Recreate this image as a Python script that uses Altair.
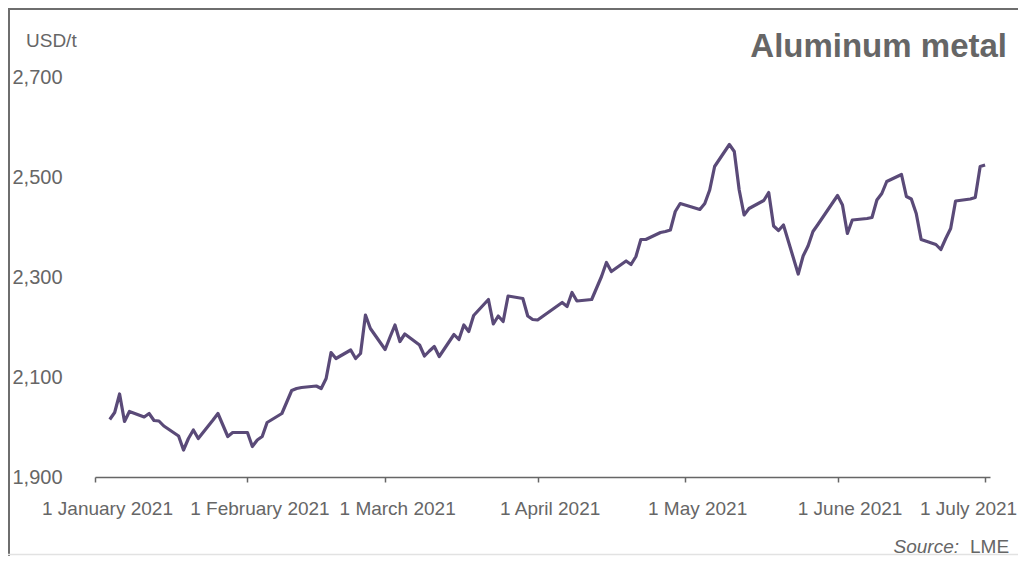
import altair as alt
import pandas as pd

# ---- data (LME aluminium, USD/t) ----
dates = [
    "2021-01-04", "2021-01-05", "2021-01-06", "2021-01-07", "2021-01-08",
    "2021-01-11", "2021-01-12", "2021-01-13", "2021-01-14", "2021-01-15",
    "2021-01-18", "2021-01-19", "2021-01-20", "2021-01-21", "2021-01-22",
    "2021-01-25", "2021-01-26", "2021-01-27", "2021-01-28", "2021-01-29",
    "2021-02-01", "2021-02-02", "2021-02-03", "2021-02-04", "2021-02-05",
    "2021-02-08", "2021-02-09", "2021-02-10", "2021-02-11", "2021-02-12",
    "2021-02-15", "2021-02-16", "2021-02-17", "2021-02-18", "2021-02-19",
    "2021-02-22", "2021-02-23", "2021-02-24", "2021-02-25", "2021-02-26",
    "2021-03-01", "2021-03-02", "2021-03-03", "2021-03-04", "2021-03-05",
    "2021-03-08", "2021-03-09", "2021-03-10", "2021-03-11", "2021-03-12",
    "2021-03-15", "2021-03-16", "2021-03-17", "2021-03-18", "2021-03-19",
    "2021-03-22", "2021-03-23", "2021-03-24", "2021-03-25", "2021-03-26",
    "2021-03-29", "2021-03-30", "2021-03-31", "2021-04-01",
    "2021-04-06", "2021-04-07", "2021-04-08", "2021-04-09",
    "2021-04-12", "2021-04-13", "2021-04-14", "2021-04-15", "2021-04-16",
    "2021-04-19", "2021-04-20", "2021-04-21", "2021-04-22", "2021-04-23",
    "2021-04-26", "2021-04-27", "2021-04-28", "2021-04-29", "2021-04-30",
    "2021-05-04", "2021-05-05", "2021-05-06", "2021-05-07",
    "2021-05-10", "2021-05-11", "2021-05-12", "2021-05-13", "2021-05-14",
    "2021-05-17", "2021-05-18", "2021-05-19", "2021-05-20", "2021-05-21",
    "2021-05-24", "2021-05-25", "2021-05-26", "2021-05-27", "2021-05-28",
    "2021-06-01", "2021-06-02", "2021-06-03", "2021-06-04",
    "2021-06-07", "2021-06-08", "2021-06-09", "2021-06-10", "2021-06-11",
    "2021-06-14", "2021-06-15", "2021-06-16", "2021-06-17", "2021-06-18",
    "2021-06-21", "2021-06-22", "2021-06-23", "2021-06-24", "2021-06-25",
    "2021-06-28", "2021-06-29", "2021-06-30", "2021-07-01",
]
prices = [
    2015, 2029, 2066, 2011, 2031,
    2020, 2027, 2013, 2012, 2002,
    1982, 1954, 1977, 1994, 1977,
    2014, 2027, 2004, 1981, 1989,
    1989, 1961, 1974, 1981, 2009,
    2027, 2050, 2073, 2077, 2079,
    2082, 2077, 2097, 2149, 2137,
    2154, 2137, 2147, 2224, 2197,
    2155, 2180, 2204, 2171, 2186,
    2164, 2142, 2152, 2161, 2141,
    2185, 2175, 2204, 2191, 2223,
    2255, 2206, 2222, 2211, 2262,
    2257, 2222, 2215, 2214,
    2249, 2241, 2269, 2252,
    2255, 2278, 2301, 2329, 2311,
    2332, 2325, 2341, 2375, 2375,
    2389, 2391, 2394, 2431, 2447,
    2435, 2447, 2474, 2521,
    2565, 2551, 2474, 2424, 2437,
    2453, 2469, 2402, 2393, 2404,
    2306, 2342, 2362, 2391, 2405,
    2463, 2444, 2387, 2414,
    2417, 2419, 2454, 2467, 2491,
    2505, 2461, 2456, 2427, 2375,
    2365, 2355, 2377, 2397, 2452,
    2456, 2459, 2521, 2524,
]
y_ticks = [1900, 2100, 2300, 2500, 2700]
tick_months = [1, 2, 3, 4, 5, 6, 7]

title_text = "Aluminum metal"
unit_text = "USD/t"
source_label = "Source:"
source_name = "LME"

df = pd.DataFrame({"date": dates, "price": prices})
one = pd.DataFrame({"k": [0]})

GREY = "#666666"
LINE = "#5a4a78"
FONT = "Liberation Sans"

x_enc = alt.X(
    "date:T",
    scale=alt.Scale(
        type="utc",
        domain=[alt.DateTime(year=2021, month=1, date=1, utc=True),
                alt.DateTime(year=2021, month=7, date=2, utc=True)],
    ),
    axis=alt.Axis(
        values=[alt.DateTime(year=2021, month=m, date=1, utc=True) for m in tick_months],
        format="%-d %B %Y",
        title=None,
        grid=False,
        domainColor=GREY,
        domainWidth=1.5,
        tickColor=GREY,
        tickWidth=1.5,
        tickSize=5,
        labelPadding=17,
        labelFont=FONT,
        labelFontSize=19,
        labelColor=GREY,
        labelOverlap=False,
        labelFlush=False,
        labelBound=False,
        labelOffset={"condition": {"test": "utcmonth(datum.value) == 6", "value": -17}, "value": 12},
    ),
)
y_enc = alt.Y(
    "price:Q",
    scale=alt.Scale(domain=[1900, 2700], nice=False, zero=False),
    axis=alt.Axis(
        values=y_ticks,
        format=",d",
        title=None,
        grid=False,
        domain=False,
        ticks=False,
        tickSize=0,
        labelAlign="left",
        labelPadding=83,
        labelFont=FONT,
        labelFontSize=20,
        labelColor=GREY,
    ),
)

line = alt.Chart(df).mark_line(color=LINE, strokeWidth=3.2, strokeJoin="round").encode(
    x=x_enc, y=y_enc
)

title = alt.Chart(one).mark_text(
    text=title_text, font=FONT, fontSize=33, fontWeight="bold", color=GREY,
    align="right", baseline="alphabetic"
).encode(x=alt.value(912), y=alt.value(-20))

unit = alt.Chart(one).mark_text(
    text=unit_text, font=FONT, fontSize=19, color=GREY, align="left", baseline="alphabetic"
).encode(x=alt.value(-69), y=alt.value(-30))

src1 = alt.Chart(one).mark_text(
    text=source_label, font=FONT, fontSize=19, fontStyle="italic", color=GREY,
    align="right", baseline="alphabetic"
).encode(x=alt.value(864), y=alt.value(476))

src2 = alt.Chart(one).mark_text(
    text=source_name, font=FONT, fontSize=19, color=GREY, align="left", baseline="alphabetic"
).encode(x=alt.value(875), y=alt.value(476))

frame_left = alt.Chart(one).mark_rule(color="#6e6e6e", strokeWidth=2).encode(
    x=alt.value(-86), y=alt.value(-69), y2=alt.value(479)
)
frame_top = alt.Chart(one).mark_rule(color="#6e6e6e", strokeWidth=2).encode(
    x=alt.value(-87), x2=alt.value(923), y=alt.value(-68)
)
frame_bottom = alt.Chart(one).mark_rule(color="#e2e2e2", strokeWidth=1.5).encode(
    x=alt.value(-87), x2=alt.value(923), y=alt.value(477.5)
)

chart = alt.layer(
    frame_left, frame_top, frame_bottom, line, title, unit, src1, src2
).properties(
    width=895,
    height=400,
    padding={"left": 87, "top": 69, "right": 28, "bottom": 79},
    autosize=alt.AutoSizeParams(type="none"),
    background="white",
).configure_view(stroke=None)

chart.save("out.html", embed_options={"renderer": "svg", "actions": False})
